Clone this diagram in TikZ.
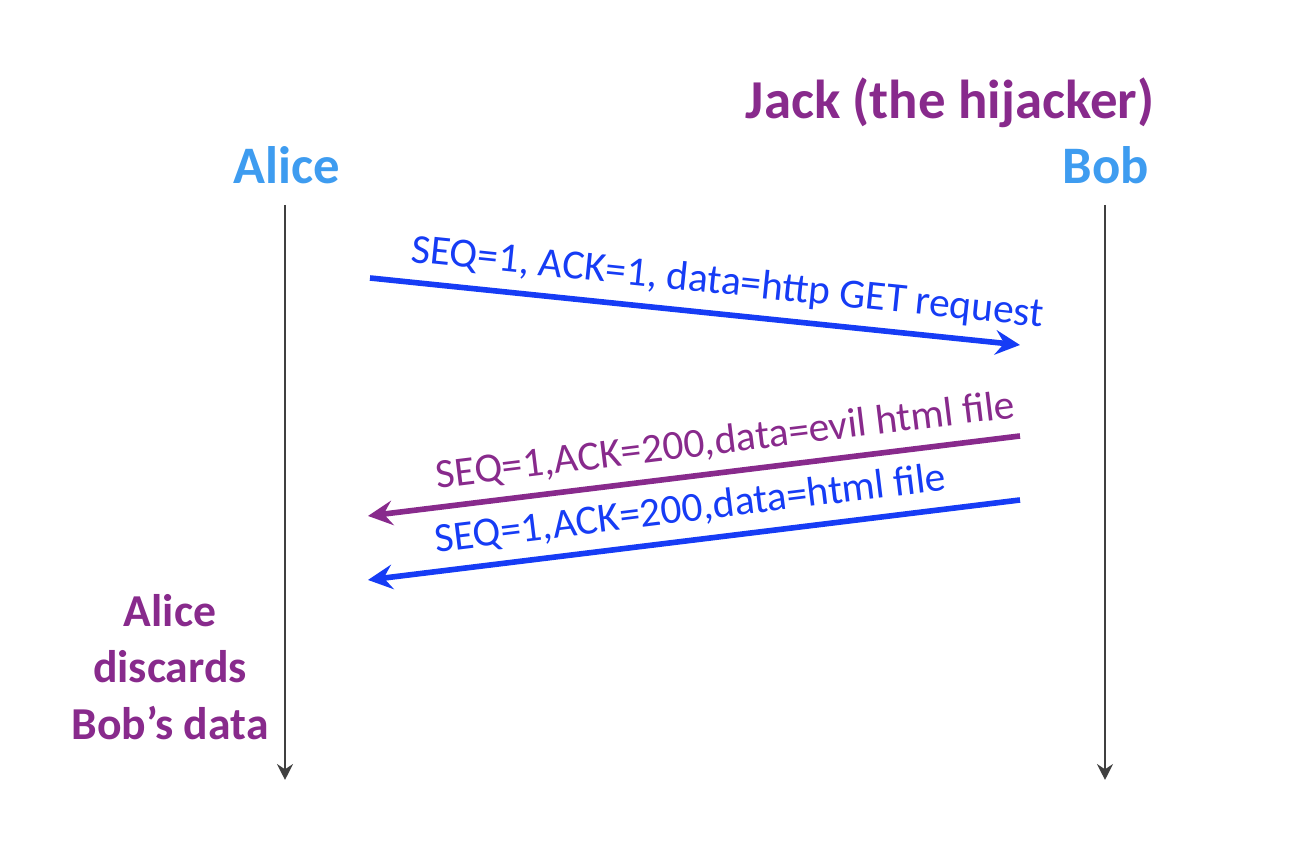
\documentclass[tikz,border=0pt]{standalone}
\usepackage{fontspec}
\setmainfont{Carlito}
\usetikzlibrary{arrows.meta}
\definecolor{nameblue}{RGB}{62,156,240}
\definecolor{msgblue}{RGB}{22,60,245}
\definecolor{jackpurple}{RGB}{136,42,140}
\definecolor{lifegray}{RGB}{64,64,64}
\newcommand\colorName{nameblue}
\newcommand\colorMsg{msgblue}
\newcommand\colorJack{jackpurple}
\newcommand\colorLifeline{lifegray}
\newcommand\lifelineTop{6.39}
\newcommand\lifelineBottom{0.64}
\tikzset{
	party/.style={font=\fontsize{15}{18}\selectfont\bfseries},
	lifeline/.style={color=\colorLifeline, line width=0.8pt, -{Stealth[length=4.5pt,width=4.5pt]}},
	msg/.style={line width=1.6pt, -{Stealth[length=7pt,width=7pt,inset=2.5pt]}},
	msglabel/.style={font=\fontsize{11.8}{14}\selectfont, sloped, above=3pt, inner sep=0pt}
}

\begin{document}
\begin{tikzpicture}
		\useasboundingbox (0,0) rectangle (13.04,8.44);
		
		\node[party, text=\colorName] (alice) at (2.87,6.79) {Alice};
		\node[party, text=\colorName] (bob) at (11.06,6.79) {Bob};
		\node[party, text=\colorJack, font=\fontsize{15.6}{18}\selectfont\bfseries] (jack) at (9.50,7.41) {Jack (the hijacker)};
		
		\coordinate (aliceTop) at (2.85,\lifelineTop);
		\coordinate (aliceEnd) at (2.85,\lifelineBottom);
		\coordinate (bobTop) at (11.05,\lifelineTop);
		\coordinate (bobEnd) at (11.05,\lifelineBottom);
		\draw[lifeline] (aliceTop) to (aliceEnd);
		\draw[lifeline] (bobTop) to (bobEnd);
		
		\coordinate (getStart) at (3.70,5.66);
		\coordinate (getEnd) at (10.20,4.99);
		\coordinate (evilStart) at (10.20,4.08);
		\coordinate (evilEnd) at (3.68,3.28);
		\coordinate (htmlStart) at (10.20,3.44);
		\coordinate (htmlEnd) at (3.68,2.64);
		
		\draw[msg, color=\colorMsg] (getStart) to
			node[msglabel, pos=0.545] (getLabel) {SEQ=1, ACK=1, data=http GET request} (getEnd);
		\draw[msg, color=\colorJack] (evilStart) to
			node[msglabel, pos=0.446] (evilLabel) {SEQ=1,ACK=200,data=evil html file} (evilEnd);
		\draw[msg, color=\colorMsg] (htmlStart) to
			node[msglabel, pos=0.5] (htmlLabel) {SEQ=1,ACK=200,data=html file} (htmlEnd);
		
		\node[text=\colorJack, font=\fontsize{13}{16}\selectfont\bfseries, align=center] (discard)
			at (1.70,1.77) {Alice\\discards\\Bob’s data};
	\end{tikzpicture}
\end{document}
